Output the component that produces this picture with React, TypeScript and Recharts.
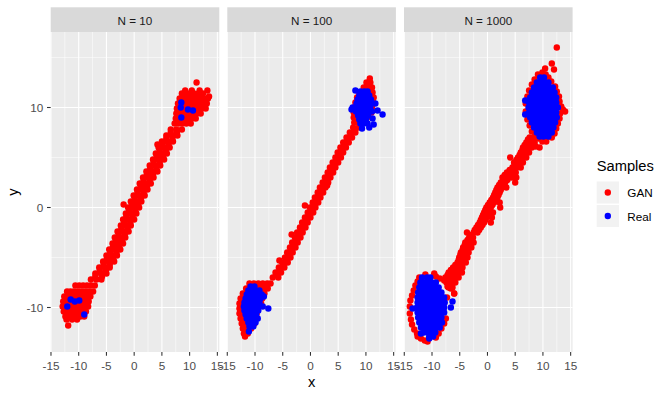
import React from "react";
import { ScatterChart, Scatter, XAxis, YAxis, CartesianGrid, ReferenceLine } from "recharts";

type Pt = [number, number];
type Row = [number, number[]];

const facets = ["N = 10", "N = 100", "N = 1000"];
const sampleNames = ["GAN", "Real"];
const sampleColors = ["#FF0000", "#0000FF"];
const xTicks = [-15, -10, -5, 0, 5, 10, 15];
const yTicks = [-10, 0, 10];
const xMinor = [-12.5, -7.5, -2.5, 2.5, 7.5, 12.5];
const yMinor = [-5, 5, 15];
const xDomain: [number, number] = [-15.05, 15.35];
const yDomain: [number, number] = [-14.45, 17.55];

// ---------- N = 10 ----------
const gan10Rows: Row[] = [
  [-11.8, [-11.9]],
  [-11.2, [-12.2, -11.2, -10.3]],
  [-10.9, [-12.4, -11.8, -11.1, -10.4, -9.7, -9.0]],
  [-10.4, [-12.7, -12.1, -11.5, -10.8, -10.1, -9.4, -8.7]],
  [-9.9, [-12.9, -12.3, -11.7, -11.0, -10.3, -9.6, -8.9, -8.3]],
  [-9.4, [-12.8, -12.2, -11.6, -10.9, -10.2, -9.5, -8.8, -8.2]],
  [-8.9, [-12.6, -12.0, -11.4, -10.7, -10.0, -9.3, -8.6, -7.9]],
  [-8.4, [-12.1, -11.5, -10.9, -10.2, -9.5, -8.8, -8.1, -7.4]],
  [-7.8, [-10.6, -9.9, -9.2, -8.5, -7.8, -7.1]],
  [-7.2, [-7.8, -6.8, -5.9]],
  [-6.9, [-7.0, -5.8]],
  [-6.6, [-7.0, -6.0, -5.0]],
  [-6.3, [-6.2, -5.1]],
  [-6.0, [-6.3, -5.3, -4.4]],
  [-5.7, [-5.5, -4.4]],
  [-5.4, [-5.6, -4.6, -3.6]],
  [-5.1, [-4.9, -3.8]],
  [-4.8, [-5.0, -4.0, -3.1]],
  [-4.5, [-4.3, -3.2]],
  [-4.2, [-4.5, -3.5, -2.5]],
  [-3.9, [-3.8, -2.7]],
  [-3.6, [-3.9, -3.0, -2.0]],
  [-3.3, [-3.3, -2.2]],
  [-3.0, [-3.5, -2.5, -1.6]],
  [-2.7, [-2.8, -1.7]],
  [-2.4, [-3.0, -2.0, -1.0]],
  [-2.1, [-2.3, -1.2]],
  [-1.8, [-2.4, -1.5, -0.6]],
  [-1.5, [-1.8, -0.7]],
  [-1.2, [-2.0, -1.0, 0.0]],
  [-0.9, [-1.4, -0.3]],
  [-0.6, [-1.5, -0.6, 0.4]],
  [-0.3, [-0.9, 0.2]],
  [0.0, [-1.1, -0.1, 0.9]],
  [0.3, [-1.9, -0.4, 0.7]],
  [0.6, [-0.6, 0.4, 1.3]],
  [0.9, [0.1, 1.2]],
  [1.2, [-0.1, 0.9, 1.9]],
  [1.5, [0.6, 1.7]],
  [1.8, [0.5, 1.5, 2.4]],
  [2.1, [1.2, 2.3]],
  [2.4, [1.0, 2.0, 3.0]],
  [2.7, [1.7, 2.8]],
  [3.0, [1.6, 2.6, 3.5]],
  [3.3, [2.3, 3.4]],
  [3.6, [2.2, 3.2, 4.2]],
  [3.9, [2.9, 4.0]],
  [4.2, [2.8, 3.8, 4.7]],
  [4.5, [3.5, 4.6]],
  [4.8, [3.4, 4.4, 5.4]],
  [5.1, [4.1, 5.2]],
  [5.4, [3.9, 4.9, 5.9]],
  [5.7, [4.6, 5.7]],
  [6.0, [4.4, 5.4, 6.4]],
  [6.3, [4.2, 5.1, 6.2]],
  [6.6, [5.0, 6.0, 7.0]],
  [6.9, [5.8, 6.9]],
  [7.2, [5.8, 6.8, 7.8]],
  [7.5, [6.6, 7.7]],
  [7.8, [6.6, 7.6, 8.6]],
  [8.4, [7.3, 8.0, 8.7, 9.4, 10.2]],
  [8.9, [7.5, 8.2, 8.9, 9.6, 10.4, 11.1]],
  [9.4, [7.6, 8.3, 9.0, 9.7, 10.5, 11.3, 12.0]],
  [9.9, [7.7, 8.4, 9.1, 9.8, 10.6, 11.4, 12.2, 12.9]],
  [10.4, [7.9, 8.6, 9.3, 10.0, 10.8, 11.6, 12.4, 13.1]],
  [10.9, [8.2, 8.9, 9.6, 10.3, 11.1, 11.9, 12.7, 13.3]],
  [11.1, [13.5]],
  [11.4, [8.6, 9.3, 10.0, 10.8, 11.6, 12.4]],
  [11.7, [9.2, 10.4, 11.8, 13.2]],
  [12.5, [11.25]],
];
const real10: Pt[] = [
  [8.5, 10.5], [8.4, 10.0], [9.7, 9.8], [10.6, 9.7], [8.5, 9.0],
  [-11.45, -9.2], [-10.7, -9.4], [-9.9, -9.3], [-12.06, -9.9], [-9.0, -10.7],
];

// ---------- N = 100 ----------
const gan100Rows: Row[] = [
  [-12.9, [-11.8]],
  [-12.6, [-12.0, -11.3]],
  [-12.1, [-12.2, -11.5, -10.7]],
  [-11.6, [-12.4, -11.6, -10.8, -10.1]],
  [-11.1, [-12.6, -11.8, -11.0, -10.2]],
  [-10.6, [-12.8, -12.0, -11.2, -10.4, -9.7]],
  [-10.1, [-12.8, -12.0, -11.2, -10.4, -9.6]],
  [-9.6, [-12.8, -12.0, -11.2, -10.4, -9.6, -8.9]],
  [-9.1, [-12.6, -11.8, -11.0, -10.2, -9.4, -8.7]],
  [-8.6, [-12.2, -11.4, -10.6, -9.8, -9.0, -8.3]],
  [-8.1, [-11.6, -10.8, -10.0, -9.2, -8.4, -7.7]],
  [-7.6, [-11.0, -10.2, -9.4, -8.6, -7.8, -7.2]],
  [-7.0, [-6.8, -5.8]],
  [-6.75, [-6.05]],
  [-6.5, [-6.3, -5.3]],
  [-6.25, [-5.5]],
  [-6.0, [-5.7, -4.7]],
  [-5.75, [-4.9]],
  [-5.5, [-5.1, -4.1]],
  [-5.3, [-5.6]],
  [-5.25, [-4.35]],
  [-5.0, [-4.6, -3.6]],
  [-4.75, [-3.9]],
  [-4.5, [-4.2, -3.2]],
  [-4.25, [-3.45]],
  [-4.0, [-3.7, -2.7]],
  [-3.75, [-3.0]],
  [-3.5, [-3.3, -2.3]],
  [-3.25, [-2.55]],
  [-3.0, [-2.8, -1.8]],
  [-2.75, [-2.1]],
  [-2.7, [-3.4]],
  [-2.5, [-2.4, -1.4]],
  [-2.25, [-1.65]],
  [-2.0, [-1.9, -0.9]],
  [-1.75, [-1.2]],
  [-1.5, [-1.5, -0.5]],
  [-1.25, [-0.75]],
  [-1.0, [-1.0, 0.0]],
  [-0.75, [-0.25]],
  [-0.5, [-0.5, 0.5]],
  [-0.25, [0.2]],
  [0.0, [-0.1, 0.9]],
  [0.2, [-1.0]],
  [0.25, [0.65]],
  [0.5, [0.4, 1.4]],
  [0.75, [1.1]],
  [1.0, [0.8, 1.8]],
  [1.25, [1.55]],
  [1.5, [1.3, 2.3]],
  [1.75, [2.0]],
  [2.0, [1.7, 2.7]],
  [2.2, [3.0]],
  [2.25, [2.45]],
  [2.5, [2.2, 3.2]],
  [2.75, [2.9]],
  [3.0, [2.6, 3.6]],
  [3.25, [3.35]],
  [3.5, [3.1, 4.1]],
  [3.75, [3.8]],
  [4.0, [3.5, 4.5]],
  [4.25, [4.25]],
  [4.5, [4.0, 5.0]],
  [4.75, [4.75]],
  [5.0, [4.5, 5.5]],
  [5.25, [5.2]],
  [5.5, [4.9, 5.9]],
  [5.75, [5.65]],
  [6.0, [5.4, 6.4]],
  [6.25, [6.15]],
  [6.5, [5.9, 6.9]],
  [6.75, [6.7]],
  [7.0, [6.5, 7.5]],
  [7.25, [7.3]],
  [7.5, [7.1, 8.1]],
  [7.75, [7.9]],
  [8.0, [7.7, 8.7]],
  [8.5, [7.9, 8.7, 9.5]],
  [9.0, [7.8, 8.6, 9.4, 10.2]],
  [9.5, [7.8, 8.6, 9.4, 10.2, 11.0]],
  [10.0, [7.9, 8.7, 9.5, 10.3, 11.1]],
  [10.5, [8.1, 8.9, 9.7, 10.5, 11.3]],
  [11.0, [8.4, 9.2, 10.0, 10.8, 11.4]],
  [11.5, [8.8, 9.6, 10.4, 11.2]],
  [12.0, [9.6, 10.4, 11.1]],
  [12.5, [10.1, 10.8]],
  [12.9, [10.7]],
];
const real100Rows: Row[] = [
  [11.7, [8.1]],
  [11.6, [9.0, 9.7, 10.3]],
  [11.2, [8.8, 9.4, 10.0, 10.6]],
  [10.8, [8.5, 9.1, 9.7, 10.3, 10.9]],
  [10.4, [8.3, 8.9, 9.5, 10.1, 10.7, 11.7]],
  [10.0, [7.6, 8.4, 9.0, 9.6, 10.2, 10.8]],
  [9.8, [7.4]],
  [9.7, [12.1]],
  [9.6, [8.2, 8.8, 9.4, 10.0, 10.6, 11.1]],
  [9.3, [13.0]],
  [9.2, [8.6, 9.2, 9.8, 10.4]],
  [8.9, [11.2]],
  [8.8, [8.8, 9.4, 10.0]],
  [8.4, [9.0, 9.6, 10.3]],
  [8.3, [11.4]],
  [8.0, [10.6]],
  [7.9, [9.3]],
  [-7.9, [-10.8, -10.1]],
  [-8.3, [-11.2, -10.6, -9.9, -9.2]],
  [-8.7, [-11.5, -10.9, -10.2, -9.5, -8.8]],
  [-8.9, [-8.4]],
  [-9.1, [-11.7, -11.1, -10.4, -9.7, -9.0]],
  [-9.5, [-11.9, -11.3, -10.6, -9.9, -9.2]],
  [-9.9, [-12.0, -11.5, -10.9, -10.2, -9.5, -8.6]],
  [-10.1, [-7.6]],
  [-10.3, [-11.9, -11.4, -10.8, -10.1, -9.4]],
  [-10.7, [-11.7, -11.1, -10.5, -9.8]],
  [-11.1, [-11.5, -10.9, -10.2, -9.5]],
  [-11.5, [-11.2, -10.6, -9.9]],
  [-11.9, [-11.0, -10.3]],
  [-12.4, [-11.1]],
];

// ---------- N = 1000 ----------
const gan1000Ring: Pt[] = [
  [9.9, 13.5], [10.5, 13.3], [10.4, 13.9], [11.0, 13.0], [11.6, 14.4], [12.0, 13.8], [12.5, 16.0],
  [11.5, 12.6], [12.2, 12.1], [12.5, 11.6], [12.9, 11.1], [13.0, 10.6], [13.3, 10.1], [13.6, 9.8],
  [14.0, 9.6], [13.1, 9.4], [13.0, 8.9], [12.7, 8.4], [12.4, 7.9], [12.1, 7.4], [11.6, 7.0],
  [10.6, 6.6], [9.9, 6.6], [9.2, 6.9], [8.6, 7.2], [8.0, 6.3], [8.7, 6.1], [9.4, 6.0], [7.5, 6.0],
  [7.3, 6.8], [8.0, 7.6], [7.6, 8.2], [7.2, 8.8], [6.9, 9.6], [6.9, 10.4], [7.2, 11.1], [7.5, 11.7],
  [8.0, 12.3], [8.5, 12.8], [9.1, 13.3],
  [-12.3, -7.0], [-12.6, -7.4], [-13.0, -7.8], [-13.3, -8.3], [-13.6, -8.8], [-13.9, -9.3],
  [-14.0, -9.9], [-14.0, -10.6], [-13.8, -11.2], [-13.6, -11.7], [-13.2, -12.2], [-12.7, -12.6],
  [-12.6, -12.9], [-12.0, -13.1], [-11.3, -13.3], [-10.8, -13.4], [-9.3, -13.0], [-8.8, -12.6],
  [-8.3, -12.1], [-7.8, -11.6], [-7.5, -11.1], [-7.3, -9.0], [-6.0, -8.6], [-6.6, -8.1],
  [-7.2, -7.9], [-7.8, -7.3], [-8.6, -7.1], [-9.3, -6.9], [-9.6, -6.6], [-11.2, -6.7],
];
const gan1000Band: Row[] = [
  [7.0, [7.6, 8.4, 9.0]],
  [6.75, [7.4, 8.2]],
  [6.5, [7.0, 7.8, 8.5]],
  [6.25, [6.7, 7.5]],
  [6.0, [6.4, 7.2, 8.0]],
  [5.75, [6.3, 7.1]],
  [5.5, [6.0, 6.8, 7.5]],
  [5.25, [5.8, 6.6]],
  [5.0, [4.1, 5.5, 6.3, 7.0]],
  [4.75, [5.2, 6.0]],
  [4.5, [4.8, 5.6, 6.4]],
  [4.25, [4.9, 5.7]],
  [4.0, [4.5, 5.3, 6.0]],
  [3.75, [4.0, 4.8]],
  [3.5, [3.5, 4.3, 5.1]],
  [3.25, [3.1, 4.0]],
  [3.0, [2.7, 3.5, 4.4, 5.2]],
  [2.75, [2.8, 3.6]],
  [2.5, [2.4, 3.2, 5.0]],
  [2.25, [2.1, 3.0]],
  [2.0, [1.8, 2.6, 3.4]],
  [1.75, [1.6, 2.4]],
  [1.5, [1.4, 2.2]],
  [1.25, [1.2, 2.0]],
  [1.0, [1.0, 1.8]],
  [0.75, [0.7, 1.5]],
  [0.5, [0.4, 1.2, 2.2]],
  [0.25, [0.1, 0.9]],
  [0.0, [-0.2, 0.6, 2.3]],
  [-0.25, [-0.4, 0.4]],
  [-0.5, [-0.6, 0.2, 1.0]],
  [-0.75, [-0.8, 0.0]],
  [-1.0, [-1.0, -0.2, 0.8]],
  [-1.25, [-1.2, -0.4]],
  [-1.5, [-1.4, -0.6, 0.6]],
  [-1.75, [-1.7, -0.9]],
  [-2.0, [-2.0, -1.2]],
  [-2.25, [-2.3, -1.5]],
  [-2.5, [-3.7, -2.5, -1.8]],
  [-2.75, [-2.9]],
  [-3.0, [-3.3, -2.6]],
  [-3.25, [-3.6, -2.8]],
  [-3.5, [-4.0, -3.2, -2.5]],
  [-3.75, [-4.1, -3.3]],
  [-4.0, [-4.4, -3.6, -2.9]],
  [-4.25, [-4.5, -3.7]],
  [-4.5, [-4.8, -4.0, -3.4]],
  [-4.75, [-4.9, -4.1]],
  [-5.0, [-5.1, -4.3, -3.6]],
  [-5.25, [-5.2, -4.4]],
  [-5.5, [-5.4, -4.6, -3.9]],
  [-5.75, [-5.8, -5.0]],
  [-6.0, [-6.2, -5.4, -4.5]],
  [-6.25, [-6.6, -5.8, -5.0]],
  [-6.5, [-7.0, -6.2, -5.4, -4.6]],
  [-6.75, [-7.2, -6.4, -5.6]],
  [-7.0, [-7.6, -6.8, -6.0, -5.2]],
  [-7.25, [-7.0, -6.2]],
  [-7.5, [-7.4, -6.6, -5.8]],
  [-7.75, [-7.1, -6.4]],
  [-8.0, [-7.0, -6.3]],
  [-8.6, [-6.0]],
];
const real1000Rows: Row[] = [
  [13.0, [9.5, 10.2]],
  [12.5, [8.9, 9.6, 10.3, 11.0]],
  [12.0, [8.4, 9.1, 9.8, 10.5, 11.2, 11.8]],
  [11.5, [8.0, 8.7, 9.4, 10.1, 10.8, 11.5, 12.1]],
  [11.0, [7.7, 8.4, 9.1, 9.8, 10.5, 11.2, 11.9, 12.4]],
  [10.7, [6.8]],
  [10.5, [7.5, 8.2, 8.9, 9.6, 10.3, 11.0, 11.7, 12.4]],
  [10.0, [7.4, 8.1, 8.8, 9.5, 10.2, 10.9, 11.6, 12.3, 12.7]],
  [9.5, [7.5, 8.2, 8.9, 9.6, 10.3, 11.0, 11.7, 12.4]],
  [9.3, [6.8]],
  [9.0, [7.7, 8.4, 9.1, 9.8, 10.5, 11.2, 11.9, 12.5]],
  [8.5, [8.0, 8.7, 9.4, 10.1, 10.8, 11.5, 12.2]],
  [8.0, [8.4, 9.1, 9.8, 10.5, 11.2, 11.9]],
  [7.5, [8.9, 9.6, 10.3, 11.0, 11.6]],
  [7.1, [9.4, 10.1, 11.0]],
  [-7.0, [-11.8, -10.9, -10.3]],
  [-7.5, [-12.1, -11.4, -10.7, -10.0, -9.3]],
  [-8.0, [-12.3, -11.6, -10.9, -10.2, -9.5, -8.8]],
  [-8.5, [-12.5, -11.8, -11.1, -10.4, -9.7, -9.0, -8.3]],
  [-9.0, [-12.6, -11.9, -11.2, -10.5, -9.8, -9.1, -8.4, -7.8]],
  [-9.4, [-6.3]],
  [-9.5, [-12.6, -11.9, -11.2, -10.5, -9.8, -9.1, -8.4, -7.7]],
  [-10.0, [-12.7, -12.0, -11.3, -10.6, -9.9, -9.2, -8.5, -7.8, -6.6]],
  [-10.1, [-13.5]],
  [-10.5, [-12.6, -11.9, -11.2, -10.5, -9.8, -9.1, -8.4, -7.8]],
  [-11.0, [-12.5, -11.8, -11.1, -10.4, -9.7, -9.0, -8.3]],
  [-11.5, [-12.3, -11.6, -10.9, -10.2, -9.5, -8.8, -8.2]],
  [-12.0, [-12.0, -11.3, -10.6, -9.9, -9.2, -8.6]],
  [-12.5, [-11.5, -10.8, -10.1, -9.4]],
  [-12.6, [-12.0]],
  [-12.9, [-10.5, -9.8]],
  [-13.1, [-10.5]],
];

const fromRows = (rows: Row[]) => rows.flatMap(([y, xs]) => xs.map((x) => ({ x, y })));
const fromPts = (pts: Pt[]) => pts.map(([x, y]) => ({ x, y }));

const panels = [
  { gan: fromRows(gan10Rows), real: fromPts(real10) },
  { gan: fromRows(gan100Rows), real: fromRows(real100Rows) },
  { gan: [...fromPts(gan1000Ring), ...fromRows(gan1000Band)], real: fromRows(real1000Rows) },
];

const FONT = '"Liberation Sans", Arial, Helvetica, sans-serif';
const PANEL_LEFT = [50.7, 227.3, 404];
const PANEL_W = 168.6;
const PAD = 14;
const STRIP_TOP = 7.3;
const STRIP_H = 24.7;

const dotShape = (color: string) => (p: any) => (
  <circle cx={p.cx} cy={p.cy} r={3.2} fill={color} />
);

function Panel({ i }: { i: number }) {
  const withY = i === 0;
  const left = withY ? 0 : PANEL_LEFT[i] - PAD;
  const width = withY ? PANEL_LEFT[0] + PANEL_W + PAD : PANEL_W + 2 * PAD;
  const d = panels[i];
  return (
    <div style={{ position: "absolute", left, top: 0 }}>
      <ScatterChart
        width={width}
        height={400}
        margin={{ top: 32, right: PAD, bottom: 28, left: withY ? 0 : PAD }}
      >
        <CartesianGrid fill="#EBEBEB" horizontal={false} vertical={false} />
        {xMinor.map((v) => (
          <ReferenceLine key={"xm" + v} x={v} stroke="#FFFFFF" strokeWidth={0.53} />
        ))}
        {yMinor.map((v) => (
          <ReferenceLine key={"ym" + v} y={v} stroke="#FFFFFF" strokeWidth={0.53} />
        ))}
        {xTicks.map((v) => (
          <ReferenceLine key={"xM" + v} x={v} stroke="#FFFFFF" strokeWidth={1.07} />
        ))}
        {yTicks.map((v) => (
          <ReferenceLine key={"yM" + v} y={v} stroke="#FFFFFF" strokeWidth={1.07} />
        ))}
        <XAxis
          type="number"
          dataKey="x"
          domain={xDomain}
          ticks={xTicks}
          interval={0}
          allowDataOverflow
          height={20}
          axisLine={false}
          tickLine={{ stroke: "#333333", strokeWidth: 1.07 }}
          tickSize={3.7}
          tickMargin={6}
          tick={{ fill: "#4D4D4D", fontSize: 11.7, fontFamily: FONT }}
        />
        <YAxis
          type="number"
          dataKey="y"
          domain={yDomain}
          ticks={yTicks}
          interval={0}
          allowDataOverflow
          hide={!withY}
          width={PANEL_LEFT[0]}
          axisLine={false}
          tickLine={{ stroke: "#333333", strokeWidth: 1.07 }}
          tickSize={3.7}
          tickMargin={3.7}
          tick={{ fill: "#4D4D4D", fontSize: 11.7, fontFamily: FONT }}
        />
        <Scatter
          name={sampleNames[0]}
          data={d.gan}
          fill={sampleColors[0]}
          shape={dotShape(sampleColors[0])}
          isAnimationActive={false}
        />
        <Scatter
          name={sampleNames[1]}
          data={d.real}
          fill={sampleColors[1]}
          shape={dotShape(sampleColors[1])}
          isAnimationActive={false}
        />
      </ScatterChart>
    </div>
  );
}

export default function App() {
  return (
    <div
      style={{
        position: "absolute",
        left: 0,
        top: 0,
        width: 670,
        height: 400,
        background: "#FFFFFF",
        overflow: "hidden",
        fontFamily: FONT,
      }}
    >
      <svg
        width={670}
        height={400}
        style={{ position: "absolute", left: 0, top: 0 }}
        fontFamily={FONT}
      >
        {facets.map((f, i) => (
          <g key={f}>
            <rect x={PANEL_LEFT[i]} y={STRIP_TOP} width={PANEL_W} height={STRIP_H} fill="#D9D9D9" />
            <text
              x={PANEL_LEFT[i] + PANEL_W / 2}
              y={24.8}
              textAnchor="middle"
              fontSize={11.7}
              fill="#1A1A1A"
            >
              {f}
            </text>
          </g>
        ))}
        <text x={311.7} y={387} textAnchor="middle" fontSize={14.7} fill="#000000">
          x
        </text>
        <text
          x={17.5}
          y={192}
          textAnchor="middle"
          fontSize={14.7}
          fill="#000000"
          transform="rotate(-90 17.5 192)"
        >
          y
        </text>
        <text x={596.7} y={171} fontSize={14.7} fill="#000000">
          Samples
        </text>
        {sampleNames.map((n, k) => (
          <g key={n}>
            <rect x={596.7} y={181.5 + k * 23.5} width={22.3} height={22} fill="#F2F2F2" />
            <circle cx={607.8} cy={192.5 + k * 23.5} r={3.2} fill={sampleColors[k]} />
            <text x={627.3} y={196.7 + k * 24.5} fontSize={11.7} fill="#000000">
              {n}
            </text>
          </g>
        ))}
      </svg>
      {facets.map((f, i) => (
        <Panel key={f} i={i} />
      ))}
    </div>
  );
}
